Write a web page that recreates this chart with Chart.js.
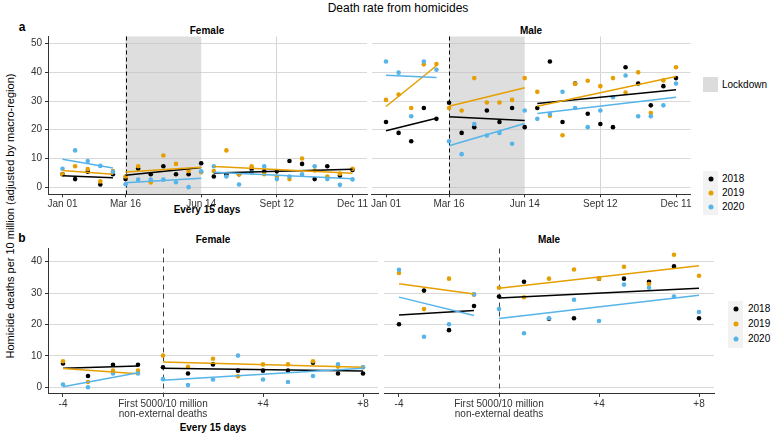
<!DOCTYPE html>
<html>
<head>
<meta charset="utf-8">
<script src="https://cdn.jsdelivr.net/npm/chart.js@4.4.2/dist/chart.umd.min.js"></script>
<style>
  body { margin:0; width:781px; height:437px; position:relative; overflow:hidden; background:#fff;
         font-family:"Liberation Sans", Arial, sans-serif; color:#000; }
  canvas { position:absolute; }
  .t { position:absolute; white-space:nowrap; line-height:1; transform:translate(-50%,-50%); }
  .b { font-weight:bold; }
  .lg { position:absolute; white-space:nowrap; line-height:1; font-size:10px; transform:translateY(-50%); }
  .box { position:absolute; }
  .dot { position:absolute; width:5px; height:5px; border-radius:50%; transform:translate(-50%,-50%); }
</style>
</head>
<body>

<div class="t" style="left:398px;top:8px;font-size:12px">Death rate from homicides</div>
<div class="t b" style="left:22px;top:27px;font-size:12px">a</div>
<div class="t b" style="left:22px;top:238px;font-size:12px">b</div>
<div class="t b" style="left:207px;top:31px;font-size:10px">Female</div>
<div class="t b" style="left:531px;top:31px;font-size:10px">Male</div>
<div class="t b" style="left:213px;top:240px;font-size:10px">Female</div>
<div class="t b" style="left:549px;top:240px;font-size:10px">Male</div>
<div class="t b" style="left:207px;top:210px;font-size:10px">Every 15 days</div>
<div class="t b" style="left:213px;top:428px;font-size:10px">Every 15 days</div>
<div class="t" style="left:10px;top:216px;font-size:11px;transform:translate(-50%,-50%) rotate(-90deg)">Homicide deaths per 10 million (adjusted by macro-region)</div>

<!-- legends -->
<div class="box" style="left:703px;top:77px;width:15px;height:15px;background:#dcdcdc"></div>
<div class="lg" style="left:722px;top:85px">Lockdown</div>
<div id="legTop"></div>
<div id="legBot"></div>

<canvas id="topF" width="400" height="200" style="left:0;top:20px"></canvas>
<canvas id="topM" width="400" height="200" style="left:330px;top:20px"></canvas>
<canvas id="botF" width="410" height="200" style="left:0;top:225px"></canvas>
<canvas id="botM" width="400" height="200" style="left:340px;top:225px"></canvas>

<script>
// ---------- DATA ----------
const years  = ["2018", "2019", "2020"];
const colors = ["#000000", "#E69F00", "#56B4E9"];

// panel a: every 15 days from Jan 01 (day of year)
const days = [0, 15, 30, 45, 60, 75, 90, 105, 120, 135, 150, 165,
              180, 195, 210, 225, 240, 255, 270, 285, 300, 315, 330, 345];
const daySegments = [[0, 4], [5, 11], [12, 23]];
const dayTicks  = [0, 75, 165, 255, 345];
const dayLabels = ["Jan 01", "Mar 16", "Jun 14", "Sept 12", "Dec 11"];
const lockdownStart = 75;
const lockdownEnd   = 165;
const topYTicks = [0, 10, 20, 30, 40, 50];

const female2018 = [4.5, 2.8, 5.4, 0.9, 4.5,  2.8, 6.5, 4.5, 7.3, 4.5, 4.5, 8.3,
                    3.7, 4.5, 4.5, 6.3, 5.5, 5.5, 9.1, 8.1, 2.8, 7.3, 4.0, 6.0];
const female2019 = [4.5, 7.3, 6.3, 2.0, 5.6,  3.7, 7.3, 1.6, 11.0, 8.1, 5.6, 5.2,
                    5.6, 12.8, 4.5, 7.3, 4.5, 3.7, 2.8, 10.0, 5.8, 3.7, 4.7, 6.4];
const female2020 = [6.4, 12.8, 9.1, 7.4, 5.3,  1.0, 2.6, 2.6, 2.6, 1.7, 0.0, 5.5,
                    7.3, 3.7, 0.9, 5.1, 7.3, 2.8, 3.7, 4.5, 7.3, 2.8, 0.8, 2.7];

const male2018 = [22.7, 18.9, 16.0, 27.6, 23.8,  29.4, 18.9, 20.9, 26.7, 22.7, 27.6, 20.9,
                  27.6, 43.8, 22.7, 36.1, 25.6, 22.0, 20.9, 41.8, 36.1, 28.5, 35.2, 38.0];
const male2019 = [30.4, 32.3, 27.6, 42.8, 42.9,  27.6, 26.7, 38.0, 29.5, 29.5, 30.4, 38.0,
                  33.2, 24.9, 18.1, 36.0, 37.1, 35.2, 38.0, 33.0, 40.0, 25.8, 37.2, 41.8];
const male2020 = [43.8, 39.9, 24.7, 43.8, 40.9,  16.0, 11.5, 22.0, 18.0, 18.9, 15.1, 26.7,
                  23.8, 25.5, 33.2, 27.6, 20.9, 26.7, 31.3, 38.9, 24.7, 24.7, 28.5, 36.1];

// panel b: 15-day periods around the first 5000/10 million non-external deaths
const offsets = [-4, -3, -2, -1, 0, 1, 2, 3, 4, 5, 6, 7, 8];
const offsetSegments = [[0, 3], [4, 12]];
const offsetTicks  = [-4, 0, 4, 8];
const offsetLabels = ["-4", ["First 5000/10 million", "non-external deaths"], "+4", "+8"];
const botYTicks = [0, 10, 20, 30, 40];

const femaleB2018 = [7.6, 3.6, 7.2, 7.2,  6.4, 4.4, 7.3, 5.3, 5.3, 5.3, 7.8, 4.4, 4.4];
const femaleB2019 = [8.3, 1.7, 5.3, 5.3,  10.1, 6.5, 9.1, 3.5, 7.3, 7.3, 8.3, 6.6, 6.4];
const femaleB2020 = [0.9, 0.0, 4.4, 4.4,  2.6, 0.7, 2.5, 10.1, 2.5, 1.7, 3.6, 7.3, 6.4];

const maleB2018 = [20.1, 30.8, 18.2, 25.9,  28.9, 33.6, 21.8, 22.0, 34.6, 34.6, 33.6, 38.5, 22.0];
const maleB2019 = [36.4, 24.9, 34.6, 29.5,  31.7, 28.7, 34.6, 37.5, 34.6, 38.4, 32.9, 42.2, 35.5];
const maleB2020 = [37.4, 16.1, 20.1, 29.6,  24.9, 17.2, 22.0, 27.9, 21.1, 32.7, 31.7, 28.9, 24.0];

// ---------- HELPERS ----------
Chart.defaults.font.family = "'Liberation Sans', Arial, sans-serif";
Chart.defaults.font.size = 10;
Chart.defaults.color = "#333";

// least squares line over one segment
function fitLine(xs, ys) {
  const n = xs.length;
  const mx = xs.reduce((a, b) => a + b, 0) / n;
  const my = ys.reduce((a, b) => a + b, 0) / n;
  let sxy = 0, sxx = 0;
  xs.forEach((x, i) => { sxy += (x - mx) * (ys[i] - my); sxx += (x - mx) * (x - mx); });
  const b = sxy / sxx;
  return [{ x: xs[0], y: my + b * (xs[0] - mx) }, { x: xs[n - 1], y: my + b * (xs[n - 1] - mx) }];
}

function buildSets(xs, segs, series) {
  const lines = [], pts = [];
  for (let k = series.length - 1; k >= 0; k--) {   // 2020 drawn on top
    const ys = series[k];
    segs.forEach(([a, b]) => {
      lines.push({
        label: years[k], showLine: true, pointRadius: 0, borderWidth: 1.5,
        borderColor: colors[k], data: fitLine(xs.slice(a, b + 1), ys.slice(a, b + 1))
      });
    });
    pts.push({
      label: years[k], pointRadius: 2.3, borderWidth: 0, backgroundColor: colors[k],
      data: xs.map((x, i) => ({ x, y: ys[i] }))
    });
  }
  return lines.concat(pts);
}

// lockdown shading + dashed marker line
const deco = {
  id: "deco",
  beforeDatasetsDraw(chart, args, o) {
    const { ctx, chartArea: a, scales: { x } } = chart;
    ctx.save();
    if (o.shade) {
      const x0 = x.getPixelForValue(o.shade[0]), x1 = x.getPixelForValue(o.shade[1]);
      ctx.fillStyle = "rgba(190,190,190,0.5)";
      ctx.fillRect(x0, a.top, x1 - x0, a.bottom - a.top);
    }
    if (o.dash !== undefined) {
      const px = Math.round(x.getPixelForValue(o.dash)) + 0.5;
      ctx.strokeStyle = o.dashColor;
      ctx.lineWidth = 1;
      ctx.setLineDash(o.dashPattern);
      ctx.beginPath();
      ctx.moveTo(px, a.top);
      ctx.lineTo(px, a.bottom);
      ctx.stroke();
    }
    ctx.restore();
  }
};

function panel(id, c) {
  return new Chart(document.getElementById(id), {
    type: "scatter",
    data: { datasets: buildSets(c.xs, c.segs, c.series) },
    options: {
      responsive: false, animation: false, events: [],
      layout: { padding: c.pad },
      plugins: { legend: { display: false }, tooltip: { enabled: false }, deco: c.deco },
      scales: {
        x: {
          type: "linear", min: c.xMin, max: c.xMax,
          afterBuildTicks: s => { s.ticks = c.xTicks.map(v => ({ value: v })); },
          afterFit: s => { s.height = c.xH; },
          ticks: {
            autoSkip: false, maxRotation: 0, padding: 2, color: "#333",
            font: { size: 10, lineHeight: 1.0 },
            callback: v => c.xLabels[c.xTicks.indexOf(v)]
          },
          grid: {
            color: ctx => (ctx.tick && ctx.tick.value === c.vGrid) ? "#d4d4d4" : "rgba(0,0,0,0)",
            tickLength: 3, tickColor: "#333", lineWidth: 1
          },
          border: { color: "#333", width: 1 }
        },
        y: {
          min: c.yMin, max: c.yMax,
          afterBuildTicks: s => { s.ticks = c.yTicks.map(v => ({ value: v })); },
          afterFit: s => { s.width = c.yW; },
          ticks: { display: c.showY, padding: 3, color: "#333", font: { size: 10 } },
          grid: { color: "#d9d9d9", lineWidth: 1, drawTicks: c.showY, tickLength: 3, tickColor: "#333" },
          border: { display: c.showY, color: "#333", width: 1 }
        }
      }
    },
    plugins: [deco]
  });
}

const topBase = {
  xs: days, segs: daySegments, xMin: -17.25, xMax: 362.25,
  xTicks: dayTicks, xLabels: dayLabels, vGrid: 255, xH: 25.7,
  yMin: -2.5, yMax: 52.5, yTicks: topYTicks,
  deco: { shade: [lockdownStart, lockdownEnd], dash: lockdownStart, dashColor: "#000", dashPattern: [4, 3] }
};
const botBase = {
  xs: offsets, segs: offsetSegments, xMin: -4.6, xMax: 8.6,
  xTicks: offsetTicks, xLabels: offsetLabels, vGrid: null, xH: 31.1,
  yMin: -2.1, yMax: 44.2, yTicks: botYTicks,
  deco: { dash: 0, dashColor: "#444", dashPattern: [5, 4] }
};

panel("topF", { ...topBase, series: [female2018, female2019, female2020],
  showY: true, yW: 38, pad: { left: 10, right: 33, top: 16.5, bottom: 0 } });
panel("topM", { ...topBase, series: [male2018, male2019, male2020],
  showY: false, yW: 0, pad: { left: 41.5, right: 39.5, top: 16.5, bottom: 0 } });
panel("botF", { ...botBase, series: [femaleB2018, femaleB2019, femaleB2020],
  showY: true, yW: 38, pad: { left: 10, right: 32, top: 23.5, bottom: 0 } });
panel("botM", { ...botBase, series: [maleB2018, maleB2019, maleB2020],
  showY: false, yW: 0, pad: { left: 44, right: 26, top: 23.5, bottom: 0 } });

// ---------- YEAR LEGENDS ----------
function yearLegend(el, bx, by, dy, tx) {
  let html = `<div class="box" style="left:${bx}px;top:${by}px;width:15px;height:${dy * 3 + 2}px;background:#f2f2f2"></div>`;
  years.forEach((y, i) => {
    const cy = by + 8 + i * dy;
    html += `<div class="dot" style="left:${bx + 7.5}px;top:${cy}px;background:${colors[i]}"></div>`;
    html += `<div class="lg" style="left:${tx}px;top:${cy}px">${y}</div>`;
  });
  document.getElementById(el).innerHTML = html;
}
yearLegend("legTop", 703, 171, 14, 722);
yearLegend("legBot", 728, 301, 15, 748);
</script>
</body>
</html>
